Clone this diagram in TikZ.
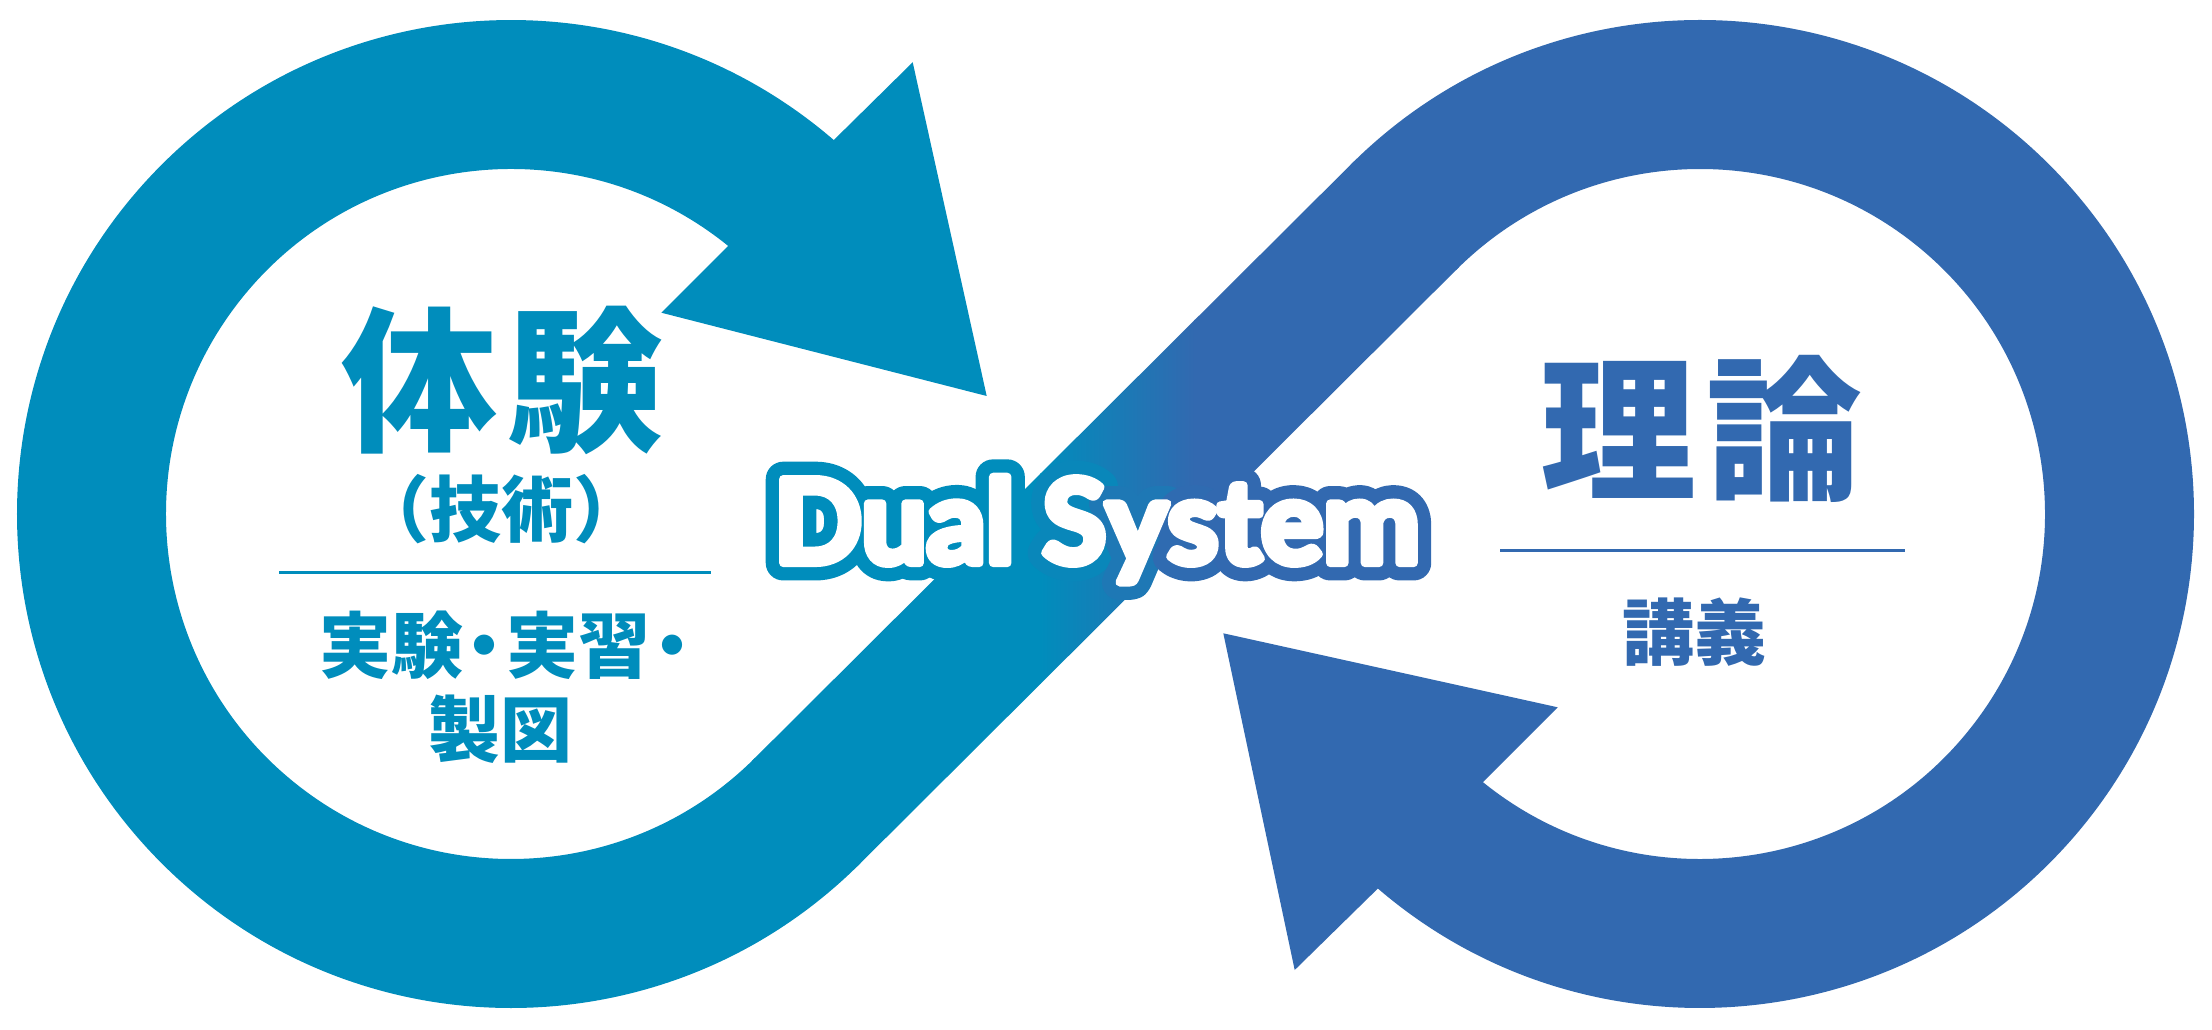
\documentclass[tikz,border=0pt]{standalone}
\usepackage{fontspec}
\usetikzlibrary{calc}
\newfontfamily\jpfont{Noto Sans CJK JP}
\newfontfamily\dualout{Lato}[UprightFeatures={FakeBold=30}, BoldFeatures={FakeBold=30}]
\newfontfamily\dualin{Lato}[UprightFeatures={FakeBold=7}, BoldFeatures={FakeBold=7}]
\definecolor{cteal}{RGB}{0,141,188}
\definecolor{cblue}{RGB}{50,105,176}
\colorlet{cS}{cblue!18!cteal}
\colorlet{cY}{cblue!59!cteal}
\colorlet{cs}{cblue!95!cteal}
\newcommand\dualtxt[5]{{\color{#1}Dual }{\color{#2}S}{\color{#3}y}{\color{#4}s}{\color{#5}tem}}
\tikzset{
  bigjp/.style={inner sep=0pt, font={\jpfont\bfseries\fontsize{156}{156}\selectfont}},
  smalljp/.style={inner sep=0pt, font={\jpfont\bfseries\fontsize{72}{72}\selectfont}},
  dualo/.style={inner sep=0pt, anchor=base, line join=round, line cap=round, font={\dualout\bfseries\fontsize{116}{116}\selectfont}},
  duali/.style={inner sep=0pt, anchor=base, line join=round, line cap=round, font={\dualin\bfseries\fontsize{116}{116}\selectfont}},
  sepline/.style={line width=3pt},
}
\begin{document}
\begin{tikzpicture}[x=1pt,y=1pt]
\useasboundingbox (0,0) rectangle (2212,1029);
\fill[white] (0,0) rectangle (2212,1029);
\coordinate (L) at (511,515);
\coordinate (R) at (1700,515);
% left ring (teal)
\fill[cteal] ($(L)+(-45:494pt)$) arc[start angle=-45, end angle=-310.8, radius=494pt]
  -- (912.7,966.7) -- (986.7,633) -- (661.3,716.3)
  -- ($(L)+(51:345pt)$) arc[start angle=51, end angle=315, radius=345pt] -- cycle;
% right ring (blue)
\fill[cblue] ($(R)+(135:494pt)$) arc[start angle=135, end angle=-130.7, radius=494pt]
  -- (1294.7,59) -- (1223.3,395.7) -- (1557.7,321.7)
  -- ($(R)+(231:345pt)$) arc[start angle=231, end angle=495, radius=345pt] -- cycle;
% diagonal band
\coordinate (a1) at ($(L)+(-45:345pt)+(-3,-3)$);
\coordinate (a2) at ($(L)+(-45:494pt)+(-3,-3)$);
\coordinate (b1) at ($(R)+(135:494pt)+(3,3)$);
\coordinate (b2) at ($(R)+(135:345pt)+(3,3)$);
\begin{scope}
  \clip (a1) -- (a2) -- (b2) -- (b1) -- cycle;
  \fill[cteal] (700,0) rectangle (1041,1029);
  \shade[left color=cteal, right color=cblue] (1040,0) rectangle (1195,1029);
  \fill[cblue] (1194,0) rectangle (1520,1029);
\end{scope}
% left texts
\node[bigjp, text=cteal] (taiken) at (502.5,649) {体\kern.06em験};
\node[smalljp, text=cteal] (gijutsu) at (501,520) {（技術）};
\coordinate (ll1) at (279,456);
\coordinate (ll2) at (711,456);
\draw[sepline, cteal] (ll1) -- (ll2);
\node[smalljp, text=cteal, anchor=west] (jikken) at (319,384) {実験\kern-.2em・\kern-.2em実習\kern-.2em・};
\node[smalljp, text=cteal] (seizu) at (500,299.5) {製図};
% right texts
\node[bigjp, text=cblue] (riron) at (1701.5,600.5) {理\kern.06em論};
\coordinate (rl1) at (1500,478);
\coordinate (rl2) at (1905,478);
\draw[sepline, cblue] (rl1) -- (rl2);
\node[smalljp, text=cblue] (kougi) at (1694,396.5) {講義};
% Dual System
\coordinate (dualc) at (1097,466);
\node[dualo] (dualoutline) at (dualc) {\dualtxt{cteal}{cS}{cY}{cs}{cblue}};
\node[duali] (dual) at (dualc) {\dualtxt{white}{white}{white}{white}{white}};
\end{tikzpicture}
\end{document}
